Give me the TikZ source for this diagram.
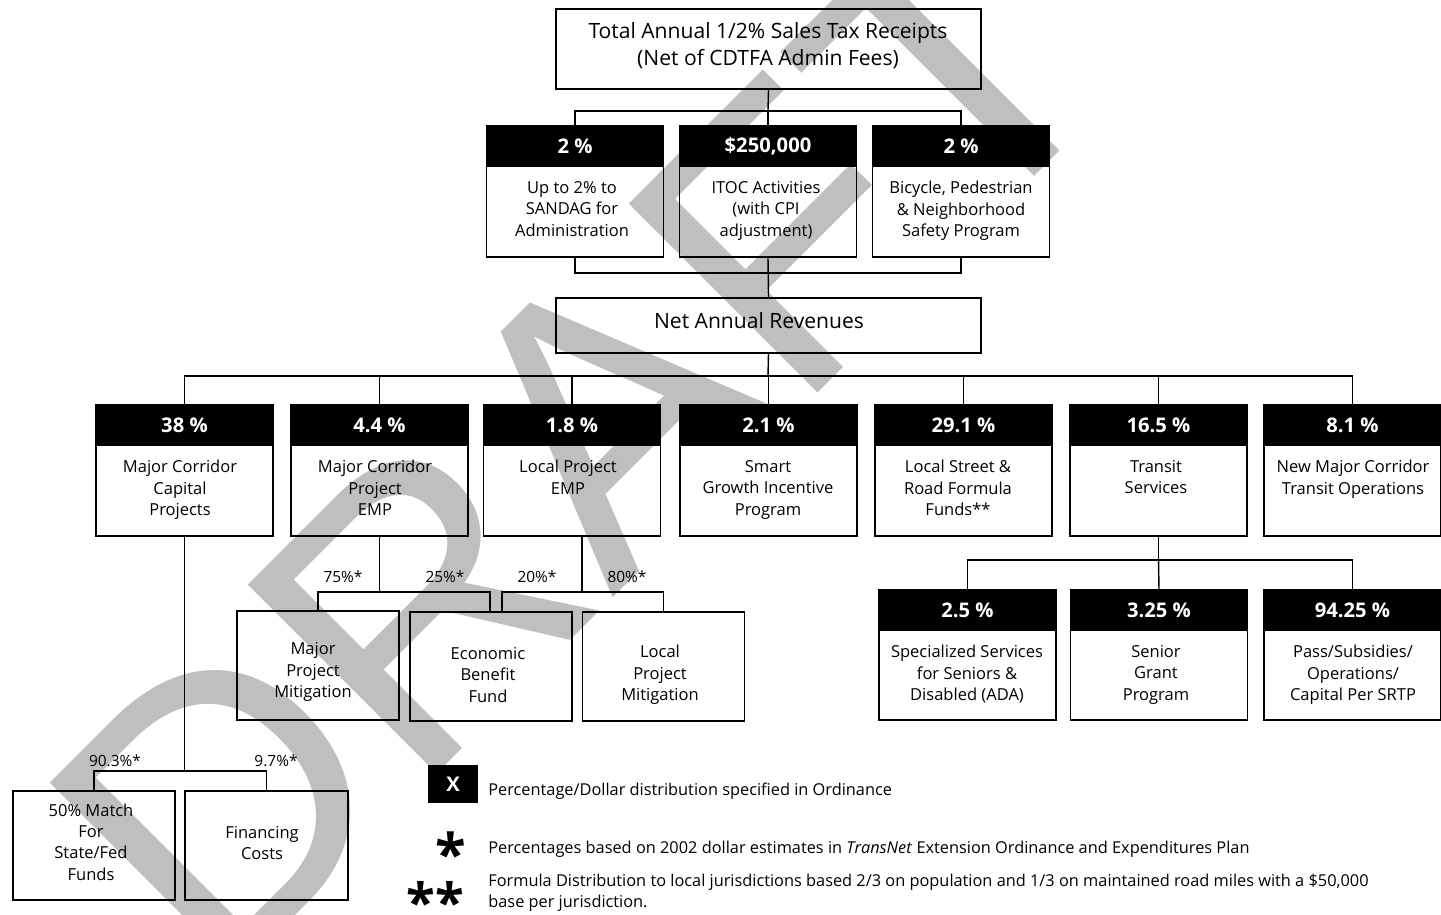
\documentclass[tikz,border=0pt]{standalone}
\usepackage{fontspec}
\setmainfont{Open Sans}
\newfontfamily\wmfont{Liberation Sans}
\usetikzlibrary{calc}
\definecolor{wmgray}{RGB}{191,191,191}
\newcommand\bodyfont{\fontsize{9.4}{12.2}\selectfont}
\newcommand\hdrfont{\bfseries\fontsize{11.5}{13}\selectfont}
\newcommand\topfont{\fontsize{12}{15.4}\selectfont}
\newcommand\pctfont{\fontsize{8.8}{10}\selectfont}
\newcommand\legfont{\fontsize{9.3}{12}\selectfont}
\tikzset{
  conn/.style={line width=0.8pt},
  bigbox/.style={draw, line width=0.9pt, inner sep=0, minimum width=8.5cm},
  body/.style={draw, line width=0.9pt, inner sep=0, minimum width=3.54cm, minimum height=2.62cm},
  hdr/.style={fill=black, draw=black, line width=0.9pt, text=white, font=\hdrfont, inner sep=0,
              minimum width=3.54cm, minimum height=0.8cm, anchor=north},
  btxt/.style={font=\bodyfont, align=center, inner sep=0, anchor=north},
  sbox/.style={draw, line width=0.9pt, inner sep=0, minimum width=3.24cm, minimum height=2.18cm},
  stxt/.style={font=\bodyfont, align=center, inner sep=0},
  pct/.style={font=\pctfont, inner sep=0},
  leg/.style={font=\legfont, inner sep=0, anchor=west, align=left},
  wm/.style={anchor=base west, rotate=45, inner sep=0, text=wmgray,
             font=\wmfont\fontsize{221}{221}\selectfont},
}
\begin{document}
\begin{tikzpicture}[x=0.02cm,y=-0.02cm]
\useasboundingbox (0,0) rectangle (1441,914);
\clip (0,0) rectangle (1441,914);
% watermark
\node[wm] (draft) at (216,995) {DRAFT};

% top
\node[bigbox, minimum height=1.6cm] (top) at (768.5,49) {};
\node[font=\topfont, align=center, inner sep=0] (toptxt) at (768,45.5) {Total Annual 1/2\% Sales Tax Receipts\\(Net of CDTFA Admin Fees)};

% row 2
\node[body] (ra) at (575,191.5) {};
\node[body] (rb) at (768,191.5) {};
\node[body] (rc) at (961,191.5) {};
\node[hdr] (raH) at (ra.north) {2 \%};
\node[hdr] (rbH) at (rb.north) {\$250,000};
\node[hdr] (rcH) at (rc.north) {2 \%};
\node[btxt] (raT) at (572,181) {Up to 2\% to\\SANDAG for\\Administration};
\node[btxt] (rbT) at (766,181) {ITOC Activities\\(with CPI\\adjustment)};
\node[btxt] (rcT) at (961,181) {Bicycle, Pedestrian\\\& Neighborhood\\Safety Program};

% net
\node[bigbox, minimum height=1.1cm] (net) at (768.5,325.5) {};
\node[font=\topfont, inner sep=0] (nettxt) at (759,321) {Net Annual Revenues};

% row 3
\foreach \n/\x in {sa/184.5, sb/379.5, sc/572, sd/768.5, se/963.5, sf/1158.5, sg/1352.5}{
  \node[body] (\n) at (\x,470.5) {};
}
\node[hdr] (saH) at (sa.north) {38 \%};
\node[hdr] (sbH) at (sb.north) {4.4 \%};
\node[hdr] (scH) at (sc.north) {1.8 \%};
\node[hdr] (sdH) at (sd.north) {2.1 \%};
\node[hdr] (seH) at (se.north) {29.1 \%};
\node[hdr] (sfH) at (sf.north) {16.5 \%};
\node[hdr] (sgH) at (sg.north) {8.1 \%};
\node[btxt] (saT) at (180,460) {Major Corridor\\Capital\\Projects};
\node[btxt] (sbT) at (375,460) {Major Corridor\\Project\\EMP};
\node[btxt] (scT) at (568,460) {Local Project\\EMP};
\node[btxt] (sdT) at (768,460) {Smart\\Growth Incentive\\Program};
\node[btxt] (seT) at (958,460) {Local Street \&\\Road Formula\\Funds**};
\node[btxt] (sfT) at (1156,460) {Transit\\Services};
\node[btxt] (sgT) at (1353,460) {New Major Corridor\\Transit Operations};

% row 4 (transit)
\node[body, minimum height=2.6cm] (ta) at (967.5,655) {};
\node[body, minimum height=2.6cm] (tb) at (1159,655) {};
\node[body, minimum height=2.6cm] (tc) at (1352.5,655) {};
\node[hdr] (taH) at (ta.north) {2.5 \%};
\node[hdr] (tbH) at (tb.north) {3.25 \%};
\node[hdr] (tcH) at (tc.north) {94.25 \%};
\node[btxt] (taT) at (967,645) {Specialized Services\\for Seniors \&\\Disabled (ADA)};
\node[btxt] (tbT) at (1156,645) {Senior\\Grant\\Program};
\node[btxt] (tcT) at (1353,645) {Pass/Subsidies/\\Operations/\\Capital Per SRTP};

% sub boxes
\node[sbox] (mpm) at (318,665.5) {};
\node[sbox] (ebf) at (491,666.5) {};
\node[sbox] (lpm) at (663.5,666.5) {};
\node[stxt] (mpmT) at (313,672) {Major\\Project\\Mitigation};
\node[stxt] (ebfT) at (488,675) {Economic\\Benefit\\Fund};
\node[stxt] (lpmT) at (660,675) {Local\\Project\\Mitigation};
\node[sbox] (m50) at (94,845.5) {};
\node[sbox, minimum width=3.26cm] (fin) at (266.5,845.5) {};
\node[stxt] (m50T) at (91,842) {50\% Match\\For\\State/Fed\\Funds};
\node[stxt] (finT) at (262,843) {Financing\\Costs};

% connectors
\coordinate (j1) at (768,111);
\draw[conn] (top.south) -- (j1);
\draw[conn] (raH.north) |- (j1);
\draw[conn] (rcH.north) |- (j1);
\draw[conn] (rbH.north) -- (j1);
\coordinate (j2) at (768,273);
\draw[conn] (ra.south) |- (j2);
\draw[conn] (rc.south) |- (j2);
\draw[conn] (rb.south) -- (net.north);
\coordinate (j3) at (768,376);
\draw[conn] (net.south) -- (j3);
\foreach \n in {saH,sbH,scH,sdH,seH,sfH,sgH}{
  \draw[conn] (\n.north) |- (j3);
}
\coordinate (j4) at (184.5,771);
\draw[conn] (sa.south) -- (j4);
\draw[conn] (m50.north) |- (j4);
\draw[conn] (fin.north) |- (j4);
\coordinate (j5) at (379.5,592);
\draw[conn] (sb.south) -- (j5);
\draw[conn] (mpm.north) |- (j5);
\draw[conn] ([xshift=-0.02cm]ebf.north) |- (j5);
\coordinate (j6) at (582,592);
\draw[conn] (sc.south -| j6) -- (j6);
\draw[conn] ([xshift=0.22cm]ebf.north) |- (j6);
\draw[conn] (lpm.north) |- (j6);
\coordinate (j7) at (1158.5,560);
\draw[conn] (sf.south) -- (j7);
\draw[conn] (taH.north) |- (j7);
\draw[conn] (tcH.north) |- (j7);
\draw[conn] (tbH.north) -- (j7);

% percentage labels
\node[pct] (p75) at (343,577) {75\%*};
\node[pct] (p25) at (445,577) {25\%*};
\node[pct] (p20) at (537,577) {20\%*};
\node[pct] (p80) at (627,577) {80\%*};
\node[pct] (p903) at (115,761) {90.3\%*};
\node[pct] (p97) at (276,761) {9.7\%*};

% legend
\node[fill=black, text=white, font=\hdrfont, inner sep=0, minimum width=1cm, minimum height=0.76cm] (lx) at (453,784) {X};
\node[leg] (lxT) at (488,791) {Percentage/Dollar distribution specified in Ordinance};
\node[font=\bfseries\fontsize{32}{32}\selectfont, inner sep=0, anchor=north] (ls1) at (451,831) {*};
\node[leg] (ls1T) at (488,849) {Percentages based on 2002 dollar estimates in \textit{TransNet} Extension Ordinance and Expenditures Plan};
\node[font=\bfseries\fontsize{30}{30}\selectfont, inner sep=0, anchor=north] (ls2) at (435,881) {**};
\node[leg] (ls2T) at (488,893) {Formula Distribution to local jurisdictions based 2/3 on population and 1/3 on maintained road miles with a \$50,000\\base per jurisdiction.};
\end{tikzpicture}
\end{document}
